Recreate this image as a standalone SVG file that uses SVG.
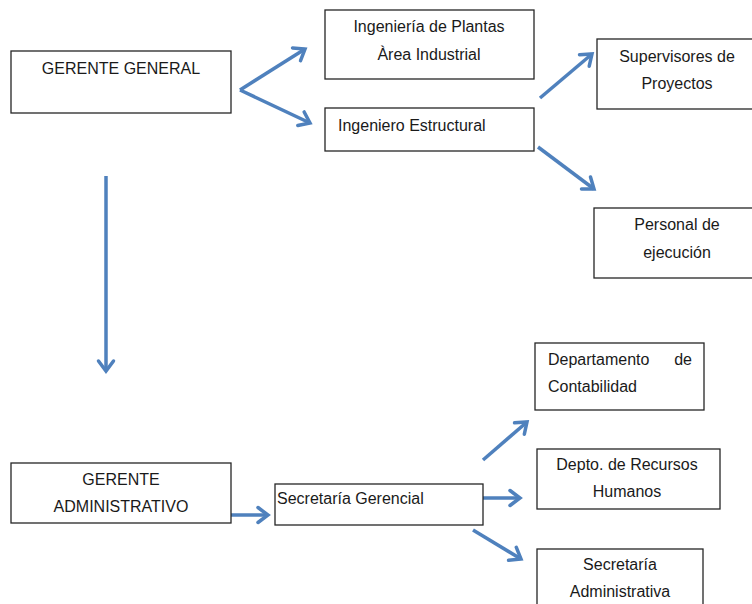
<svg xmlns="http://www.w3.org/2000/svg" width="752" height="604" viewBox="0 0 752 604">
<style>
.box{fill:#fff;stroke:#262626;stroke-width:1.3}
.t{font-family:"Liberation Sans",Arial,sans-serif;font-size:16px;fill:#1a1a1a}
.c{text-anchor:middle}
.arr{stroke:#4f81bd;stroke-width:3.5;fill:none;marker-end:url(#ah)}
.sh{stroke:#000;stroke-opacity:0.15;stroke-width:3.5;fill:none}
</style>
<defs>
<marker id="ah" markerUnits="userSpaceOnUse" markerWidth="20" markerHeight="20" viewBox="0 0 20 20" refX="15" refY="10" orient="auto">
<path d="M5,2.5 L15,10 L5,17.5" fill="none" stroke="#4f81bd" stroke-width="3.5" stroke-linejoin="miter" stroke-linecap="round"/>
</marker>
</defs>
<rect width="752" height="604" fill="#fff"/>
<g id="connectors">
<line class="arr" x1="240" y1="90" x2="305" y2="49"/>
<line class="arr" x1="240" y1="90" x2="310" y2="123"/>
<line class="arr" x1="540" y1="98" x2="592" y2="54"/>
<line class="arr" x1="538" y1="147" x2="594" y2="189"/>
<line class="arr" x1="106" y1="176" x2="106" y2="371"/>
<line class="arr" x1="231" y1="515" x2="268" y2="515"/>
<line class="arr" x1="483" y1="460" x2="527" y2="422"/>
<line class="arr" x1="483" y1="498" x2="520" y2="498"/>
<line class="arr" x1="473" y1="530" x2="521" y2="559"/>
</g>
<g id="gerente-general">
<rect class="box" x="11" y="51" width="220" height="62"/>
<text class="t c" x="121" y="74">GERENTE GENERAL</text>
</g>
<g id="ing-plantas">
<rect class="box" x="325" y="10" width="209" height="69"/>
<text class="t c" x="429" y="32">Ingeniería de Plantas</text>
<text class="t c" x="429" y="60">Àrea Industrial</text>
</g>
<g id="ing-estructural">
<rect class="box" x="325" y="108" width="209" height="43"/>
<text class="t" x="338" y="131">Ingeniero Estructural</text>
</g>
<g id="supervisores">
<rect class="box" x="597" y="39" width="170" height="70"/>
<text class="t c" x="677" y="62">Supervisores de</text>
<text class="t c" x="677" y="89">Proyectos</text>
</g>
<g id="personal">
<rect class="box" x="594" y="208" width="170" height="70"/>
<text class="t c" x="677" y="230">Personal de</text>
<text class="t c" x="677" y="258">ejecución</text>
</g>
<g id="gerente-administrativo">
<rect class="box" x="11" y="463" width="220" height="60"/>
<text class="t c" x="121" y="485">GERENTE</text>
<text class="t c" x="121" y="512">ADMINISTRATIVO</text>
</g>
<g id="secretaria-gerencial">
<rect class="box" x="275" y="484" width="208" height="41"/>
<text class="t" x="277" y="504">Secretaría Gerencial</text>
</g>
<g id="contabilidad">
<rect class="box" x="535" y="343" width="169" height="67"/>
<text class="t"><tspan x="548" y="365">Departamento</tspan><tspan x="692" y="365" text-anchor="end">de</tspan></text>
<text class="t" x="548" y="392">Contabilidad</text>
</g>
<g id="rrhh">
<rect class="box" x="537" y="449" width="183" height="60"/>
<text class="t c" x="627" y="470">Depto. de Recursos</text>
<text class="t c" x="627" y="497">Humanos</text>
</g>
<g id="secretaria-administrativa">
<rect class="box" x="537" y="549" width="166" height="70"/>
<text class="t c" x="620" y="570">Secretaría</text>
<text class="t c" x="620" y="597">Administrativa</text>
</g>
</svg>
